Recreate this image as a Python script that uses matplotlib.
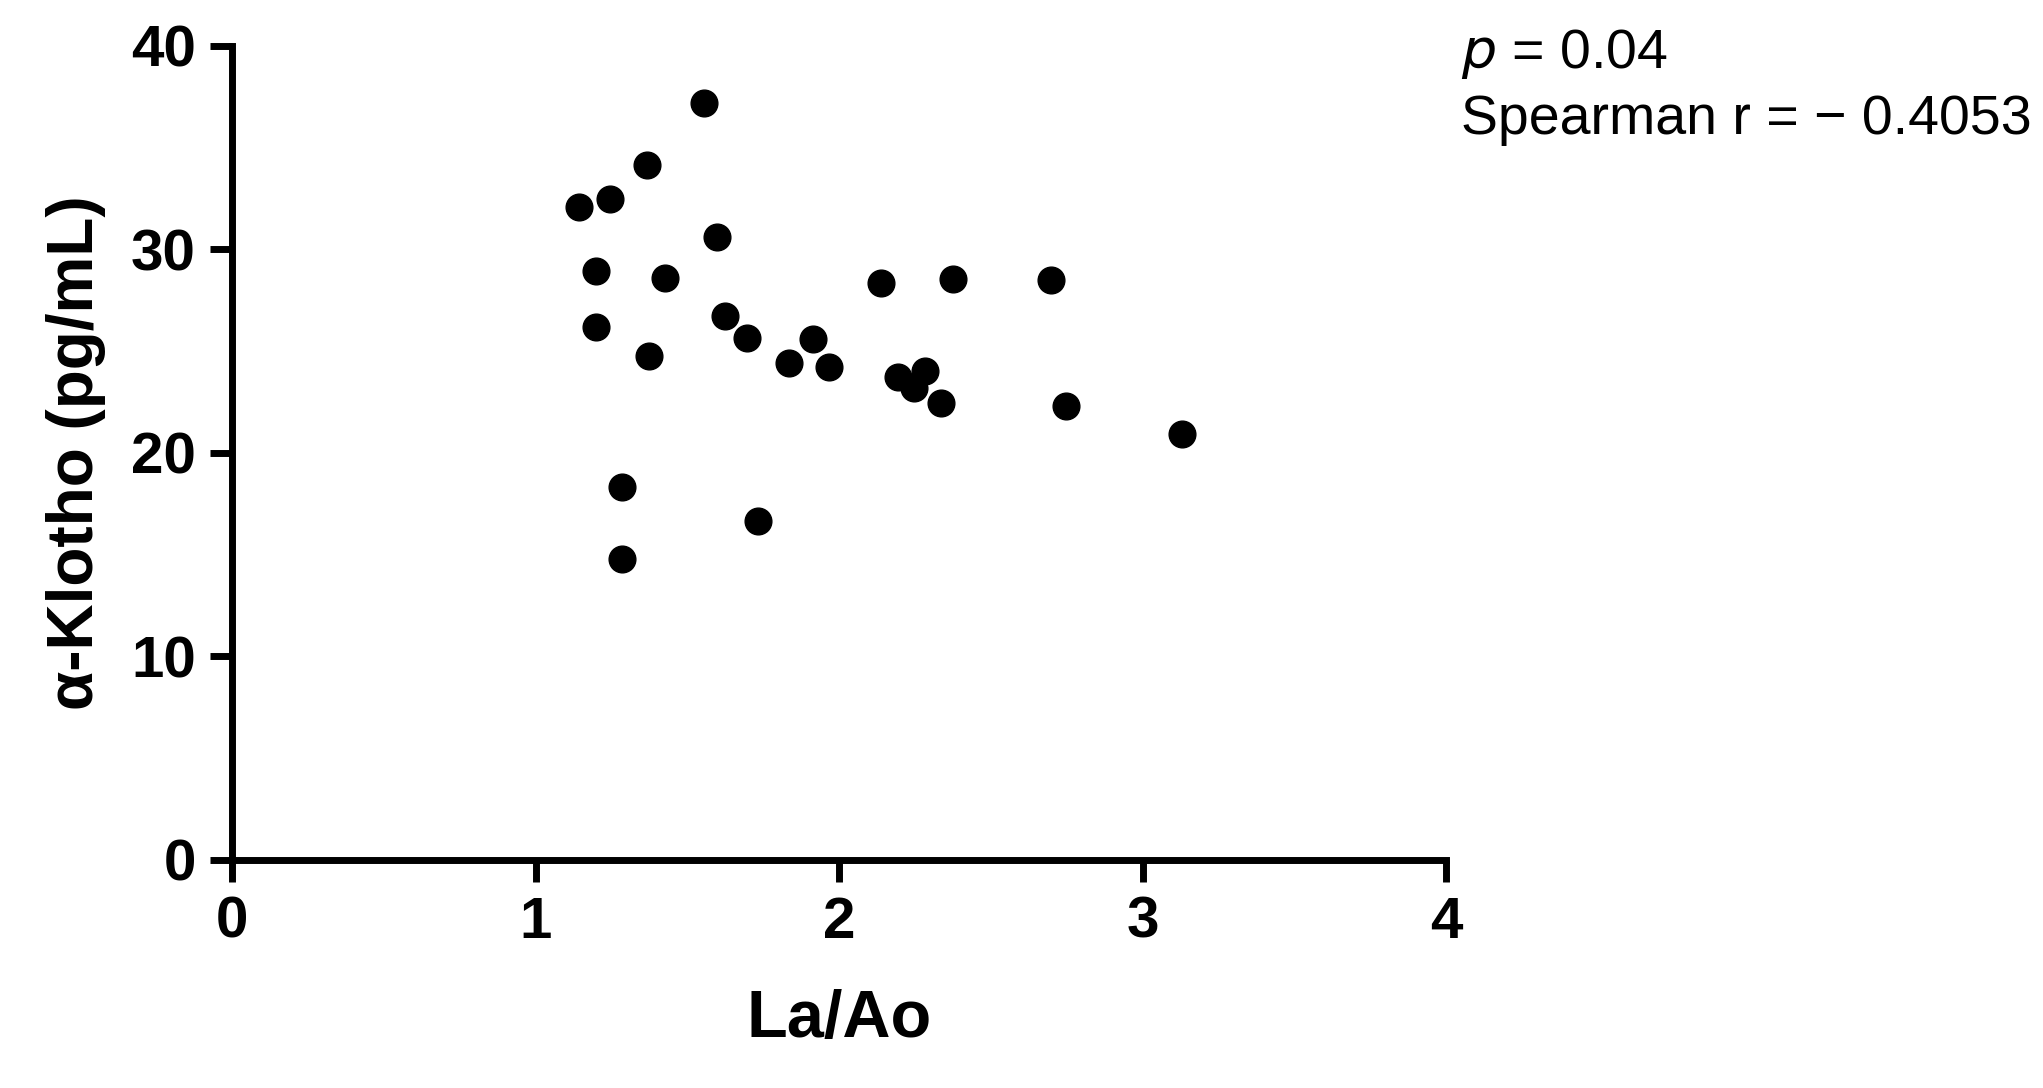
import matplotlib
matplotlib.use("Agg")
import matplotlib.pyplot as plt

x_vals = [1.142, 1.246, 1.366, 1.556, 1.198, 1.198, 1.427, 1.599, 1.625, 1.698, 1.375, 1.836, 1.914,
          1.966, 2.138, 2.194, 2.246, 2.284, 2.336, 2.375, 2.698, 2.746, 3.129, 1.284, 1.284, 1.733]
y_vals = [32.08, 32.46, 34.14, 37.17, 28.92, 26.15, 28.6, 30.6, 26.73, 25.64, 24.73, 24.41, 25.57,
          24.22, 28.34, 23.70, 23.19, 24.03, 22.42, 28.53, 28.47, 22.29, 20.93, 18.29, 14.75, 16.62]
x_ticks = [0, 1, 2, 3, 4]
y_ticks = [0, 10, 20, 30, 40]

plt.rcParams['font.family'] = ['Liberation Sans', 'DejaVu Sans']
fig = plt.figure(figsize=(20.43, 10.88), dpi=100)
ax = fig.add_axes([0.1135, 0.21, 0.5945, 0.748])
ax.scatter(x_vals, y_vals, s=370, color='black', zorder=3, clip_on=False)
ax.set_xlim(0, 4)
ax.set_ylim(0, 40)
ax.set_xticks(x_ticks)
ax.set_yticks(y_ticks)
for s in ['top', 'right']:
    ax.spines[s].set_visible(False)
for s in ['left', 'bottom']:
    ax.spines[s].set_linewidth(5)
ax.tick_params(width=5, length=16, labelsize=42, pad=10)
for lab in ax.get_xticklabels() + ax.get_yticklabels():
    lab.set_fontweight('bold')
ax.set_xlabel('La/Ao', fontsize=48, fontweight='bold', labelpad=28)
ax.set_ylabel('α-Klotho (pg/mL)', fontsize=46, fontweight='bold', labelpad=18)
fig.text(0.715, 0.95, r'$p$ = 0.04', fontsize=40, va='center')
fig.text(0.715, 0.89, 'Spearman r = − 0.4053', fontsize=40, va='center')
fig.savefig('out.png', dpi=100)
